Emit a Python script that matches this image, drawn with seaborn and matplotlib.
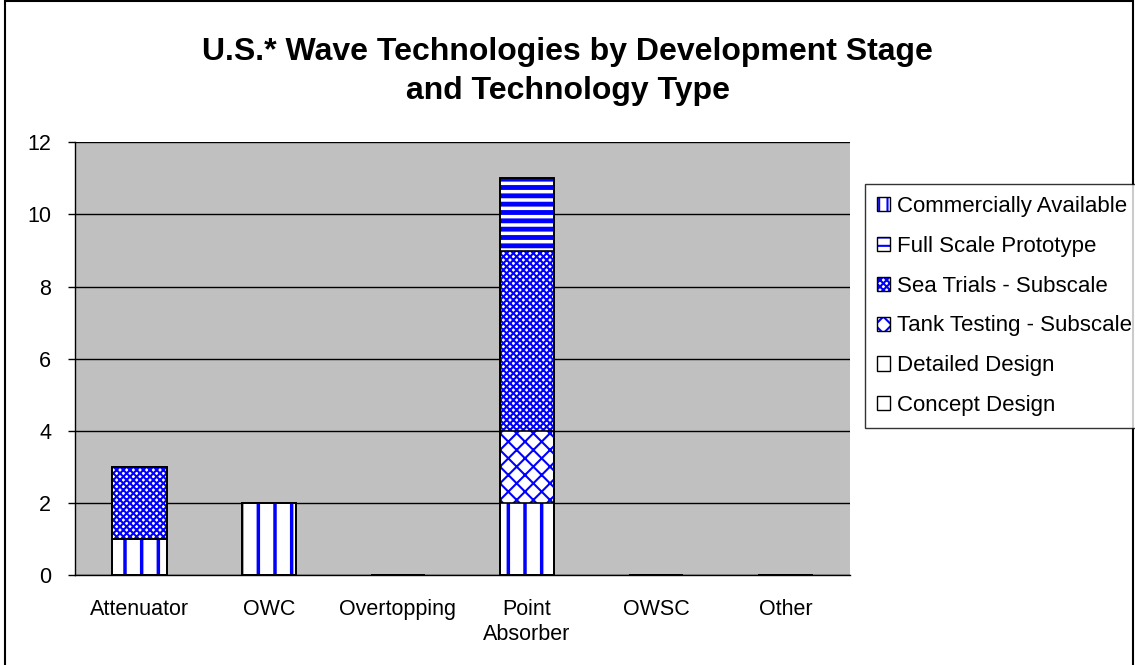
import numpy as np
import pandas as pd
import seaborn as sns
import matplotlib.pyplot as plt
from matplotlib.patches import Patch, Rectangle
from matplotlib.legend_handler import HandlerTuple

# chart data
categories = ['Attenuator', 'OWC', 'Overtopping', 'Point\nAbsorber', 'OWSC', 'Other']
stages = ['Concept Design', 'Detailed Design', 'Tank Testing - Subscale',
          'Sea Trials - Subscale', 'Full Scale Prototype', 'Commercially Available']
concept_design = [0, 0, 0, 0, 0, 0]
detailed_design = [1, 2, 0, 2, 0, 0]
tank_testing = [0, 0, 0, 2, 0, 0]
sea_trials = [2, 0, 0, 5, 0, 0]
full_scale = [0, 0, 0, 2, 0, 0]
commercial = [0, 0, 0, 0, 0, 0]
y_ticks = [0, 2, 4, 6, 8, 10, 12]

df = pd.DataFrame({'Concept Design': concept_design,
                   'Detailed Design': detailed_design,
                   'Tank Testing - Subscale': tank_testing,
                   'Sea Trials - Subscale': sea_trials,
                   'Full Scale Prototype': full_scale,
                   'Commercially Available': commercial},
                  index=categories)
cum = df[stages].cumsum(axis=1)

hatches = {'Concept Design': '',
           'Detailed Design': '|',
           'Tank Testing - Subscale': 'xx',
           'Sea Trials - Subscale': 'xxxxx',
           'Full Scale Prototype': '--',
           'Commercially Available': '||'}
hatch_lw = {'Concept Design': 1, 'Detailed Design': 2.5, 'Tank Testing - Subscale': 1.5,
            'Sea Trials - Subscale': 1.5, 'Full Scale Prototype': 3.5,
            'Commercially Available': 3}

sns.set_style('white')
plt.rcParams['font.family'] = ['Liberation Sans', 'DejaVu Sans']
plt.rcParams['text.color'] = 'black'
plt.rcParams['xtick.color'] = 'black'
plt.rcParams['ytick.color'] = 'black'

fig = plt.figure(figsize=(11.35, 6.65), dpi=100)
ax = fig.add_axes([0.066, 0.135, 0.683, 0.651])
ax.set_facecolor('#C0C0C0')

# stacked bars: draw cumulative totals from the top stage down
for stage in reversed(stages):
    plt.rcParams['hatch.linewidth'] = hatch_lw[stage]
    sns.barplot(x=categories, y=cum[stage].values, order=categories, color='white',
                saturation=1, width=0.42, edgecolor='blue', hatch=hatches[stage],
                linewidth=0, ax=ax, zorder=3)
    sns.barplot(x=categories, y=cum[stage].values, order=categories, fill=False,
                width=0.42, edgecolor='black', linewidth=1.2, ax=ax, zorder=4)

ax.set_ylim(0, 12)
ax.set_xlim(-0.5, 5.5)
ax.set_yticks(y_ticks)
ax.set_yticklabels([str(t) for t in y_ticks], fontsize=15.5)
ax.set_xticks(range(len(categories)))
ax.set_xticklabels(categories, fontsize=15.5, linespacing=1.25)
ax.set_xticks(np.arange(-0.5, 6.0, 1.0), minor=True)
ax.tick_params(axis='x', which='major', length=0, pad=17)
ax.tick_params(axis='x', which='minor', length=6, width=1, color='black', direction='out')
ax.tick_params(axis='y', length=5, width=1, color='black', direction='out', pad=12, left=True)
ax.yaxis.grid(True, color='black', linewidth=1)
ax.set_axisbelow(True)
for side in ['top', 'right']:
    ax.spines[side].set_visible(False)
for side in ['left', 'bottom']:
    ax.spines[side].set_color('black')
    ax.spines[side].set_linewidth(1)
ax.set_xlabel('')
ax.set_ylabel('')

fig.text(0.5, 0.893, 'U.S.* Wave Technologies by Development Stage\nand Technology Type',
         ha='center', va='center', fontsize=23, fontweight='bold', linespacing=1.4)

# legend with hatched swatches and black outlines
plt.rcParams['hatch.linewidth'] = 1.5
handles = []
for stage in reversed(stages):
    h1 = Patch(facecolor='white', edgecolor='blue', hatch=hatches[stage], linewidth=0)
    h2 = Patch(facecolor='none', edgecolor='black', linewidth=1)
    handles.append((h1, h2))
leg = fig.legend(handles, list(reversed(stages)), loc='upper left',
                 bbox_to_anchor=(0.762, 0.724), fontsize=16, frameon=True,
                 fancybox=False, edgecolor='black', handlelength=0.6, handleheight=0.6,
                 handletextpad=0.3, labelspacing=0.85, borderpad=0.55, borderaxespad=0,
                 handler_map={tuple: HandlerTuple(ndivide=1, pad=0)})
leg.get_frame().set_linewidth(1)

fig.patches.append(Rectangle((0.004, -0.01), 0.994, 1.008, transform=fig.transFigure,
                             fill=False, edgecolor='black', linewidth=1.5))

fig.savefig('out.png', dpi=100)
